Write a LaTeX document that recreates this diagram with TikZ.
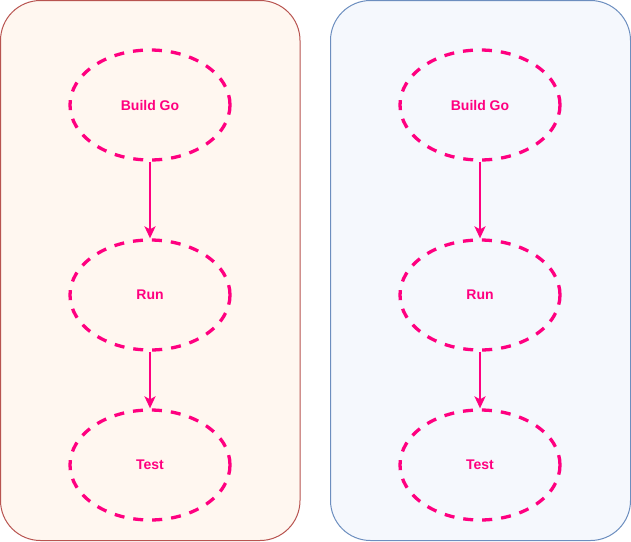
\documentclass[tikz,border=0pt]{standalone}
\usepackage{fontspec}
\setmainfont{Liberation Sans}
\usetikzlibrary{arrows.meta,shapes.geometric}
\definecolor{pinkc}{HTML}{FF0080}
\definecolor{lfill}{HTML}{FFF7F0}
\definecolor{lstroke}{HTML}{B85450}
\definecolor{rfill}{HTML}{F5F8FD}
\definecolor{rstroke}{HTML}{6C8EBF}
\tikzset{
  x=1pt, y=-1pt,
  container/.style={rounded corners=40pt, line width=1pt},
  stage/.style={ellipse, draw=pinkc, line width=3.3pt, dash pattern=on 10pt off 9pt,
    minimum width=160pt, minimum height=110pt, inner sep=0pt, text=pinkc,
    font=\bfseries\fontsize{14pt}{16pt}\selectfont},
  flow/.style={draw=pinkc, line width=2.2pt, -{Stealth[length=12pt,width=11pt,inset=3pt]}}
}
\begin{document}
\begin{tikzpicture}
\useasboundingbox (0,0) rectangle (631,541);
\draw[container, fill=lfill, draw=lstroke] (0.5,0.5) rectangle (300,540.5);
\draw[container, fill=rfill, draw=rstroke] (330.5,0.5) rectangle (630.5,540.5);
\node[stage] (lb) at (150,105) {Build Go};
\node[stage] (lr) at (150,295) {Run};
\node[stage] (lt) at (150,465) {Test};
\node[stage] (rb) at (480,105) {Build Go};
\node[stage] (rr) at (480,295) {Run};
\node[stage] (rt) at (480,465) {Test};
\draw[flow] (lb.south) -- (lr.north);
\draw[flow] (lr.south) -- (lt.north);
\draw[flow] (rb.south) -- (rr.north);
\draw[flow] (rr.south) -- (rt.north);
\end{tikzpicture}
\end{document}
